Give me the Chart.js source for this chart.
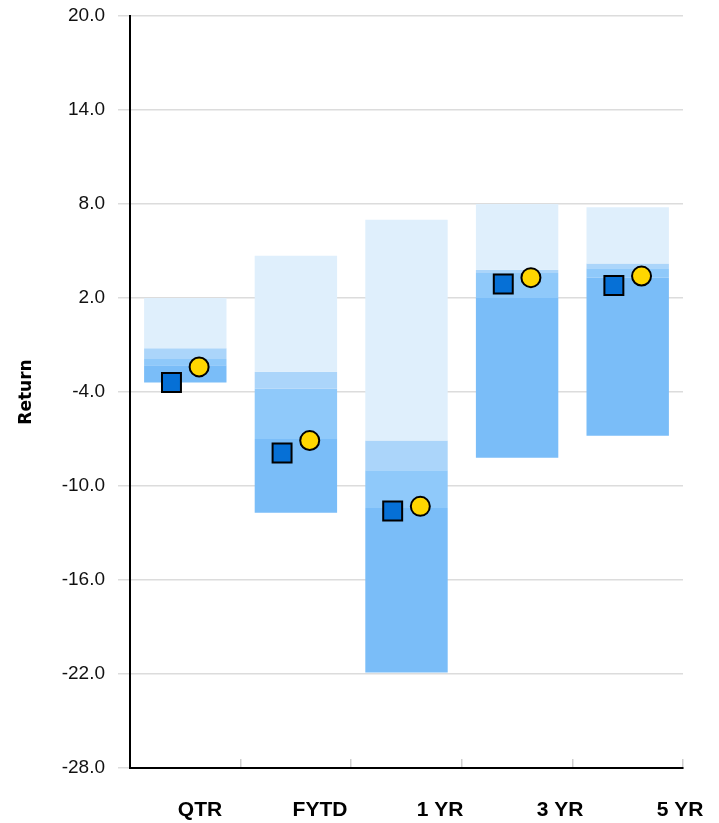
<!DOCTYPE html>
<html>
<head>
<meta charset="utf-8">
<script src="https://cdn.jsdelivr.net/npm/chart.js@4/dist/chart.umd.min.js"></script>
<style>
  html, body { margin: 0; padding: 0; background: #ffffff; }
  #wrap { width: 719px; height: 823px; position: relative; }
</style>
</head>
<body>
<div id="wrap"><canvas id="chart"></canvas></div>
<script>
// Return periods
const categories = ['QTR', 'FYTD', '1 YR', '3 YR', '5 YR'];

// Peer universe percentile breakpoints (5th = best, 95th = worst)
const pct05 = [2.0, 4.7, 7.0, 8.0, 7.8];
const pct25 = [-1.2, -2.7, -7.1, 3.8, 4.2];
const pct50 = [-1.9, -3.8, -9.0, 3.6, 3.9];
const pct75 = [-2.3, -7.0, -11.4, 2.0, 3.3];
const pct95 = [-3.4, -11.7, -21.9, -8.2, -6.8];

// Portfolio (squares) and benchmark (circles)
const portfolio = [-3.4, -7.9, -11.6, 2.9, 2.8];
const benchmark = [-2.4, -7.1, -11.3, 3.3, 3.4];

// Value axis
const yMin = -28;
const yMax = 20;
const yStep = 6;

const bandColors = ['#dfeffc', '#abd5fa', '#8fc9fa', '#7abdf8'];
const markerShift = 0.125;

function band(hi, lo) {
  return categories.map((_, i) => [lo[i], hi[i]]);
}

const bandDefaults = {
  type: 'bar',
  xAxisID: 'x',
  yAxisID: 'y',
  grouped: false,
  barPercentage: 0.745,
  categoryPercentage: 1.0,
  borderWidth: 0,
  borderSkipped: false,
  order: 2
};

Chart.defaults.font.family = "'Liberation Sans', Arial, sans-serif";

new Chart(document.getElementById('chart'), {
  type: 'bar',
  data: {
    labels: categories,
    datasets: [
      Object.assign({ label: '5th-25th', data: band(pct05, pct25), backgroundColor: bandColors[0] }, bandDefaults),
      Object.assign({ label: '25th-Median', data: band(pct25, pct50), backgroundColor: bandColors[1] }, bandDefaults),
      Object.assign({ label: 'Median-75th', data: band(pct50, pct75), backgroundColor: bandColors[2] }, bandDefaults),
      Object.assign({ label: '75th-95th', data: band(pct75, pct95), backgroundColor: bandColors[3] }, bandDefaults),
      {
        type: 'line',
        label: 'Portfolio',
        xAxisID: 'xp',
        yAxisID: 'y',
        showLine: false,
        data: portfolio.map((v, i) => ({ x: i - markerShift, y: v })),
        pointStyle: 'rect',
        pointRadius: 13.4,
        pointBackgroundColor: '#0670d6',
        pointBorderColor: '#000000',
        pointBorderWidth: 2,
        order: 0
      },
      {
        type: 'line',
        label: 'Benchmark',
        xAxisID: 'xp',
        yAxisID: 'y',
        showLine: false,
        data: benchmark.map((v, i) => ({ x: i + markerShift, y: v })),
        pointStyle: 'circle',
        pointRadius: 9.5,
        pointBackgroundColor: '#ffd600',
        pointBorderColor: '#000000',
        pointBorderWidth: 2,
        order: 0
      }
    ]
  },
  options: {
    responsive: true,
    maintainAspectRatio: false,
    animation: false,
    layout: { padding: { top: 16, right: 36, bottom: 0, left: 0 } },
    plugins: {
      legend: { display: false },
      tooltip: { enabled: false }
    },
    scales: {
      // category axis carrying the bars, its baseline and the short divider ticks
      x: {
        type: 'category',
        position: 'bottom',
        offset: true,
        grid: {
          offset: true,
          drawOnChartArea: false,
          drawTicks: true,
          tickLength: -9,
          color: '#cfcfcf',
          lineWidth: 1.5
        },
        border: { display: true, color: '#000000', width: 2 },
        ticks: { display: false },
        afterFit: (s) => { s.height = 0; }
      },
      // period labels row
      xl: {
        type: 'linear',
        position: 'bottom',
        min: -0.5833,
        max: 4.025,
        offset: false,
        grid: { display: false, drawTicks: false },
        border: { display: false },
        afterBuildTicks: (s) => { s.ticks = categories.map((_, i) => ({ value: i })); },
        afterFit: (s) => { s.height = 55; s.paddingLeft = 0; s.paddingRight = 0; },
        ticks: {
          autoSkip: false,
          padding: 29.4,
          font: { size: 21, weight: 'bold' },
          color: '#000000',
          callback: (v) => categories[v]
        }
      },
      // hidden axis used to set the markers either side of each bar
      xp: {
        type: 'linear',
        display: false,
        min: -0.5,
        max: 4.5,
        offset: false
      },
      y: {
        type: 'linear',
        position: 'left',
        min: yMin,
        max: yMax,
        grid: {
          color: '#dcdcdc',
          lineWidth: 1.5,
          tickLength: 12
        },
        border: { display: true, color: '#000000', width: 2 },
        ticks: {
          stepSize: yStep,
          padding: 13,
          font: { size: 19 },
          color: '#111111',
          callback: (v) => Number(v).toFixed(1)
        },
        title: {
          display: true,
          text: 'Return',
          font: { family: "'DejaVu Sans', sans-serif", size: 17, weight: 'bold' },
          color: '#000000',
          padding: { top: 16, bottom: 0 }
        },
        afterFit: (s) => { s.width = 130; s.paddingTop = 0; s.paddingBottom = 0; }
      }
    }
  }
});
</script>
</body>
</html>
